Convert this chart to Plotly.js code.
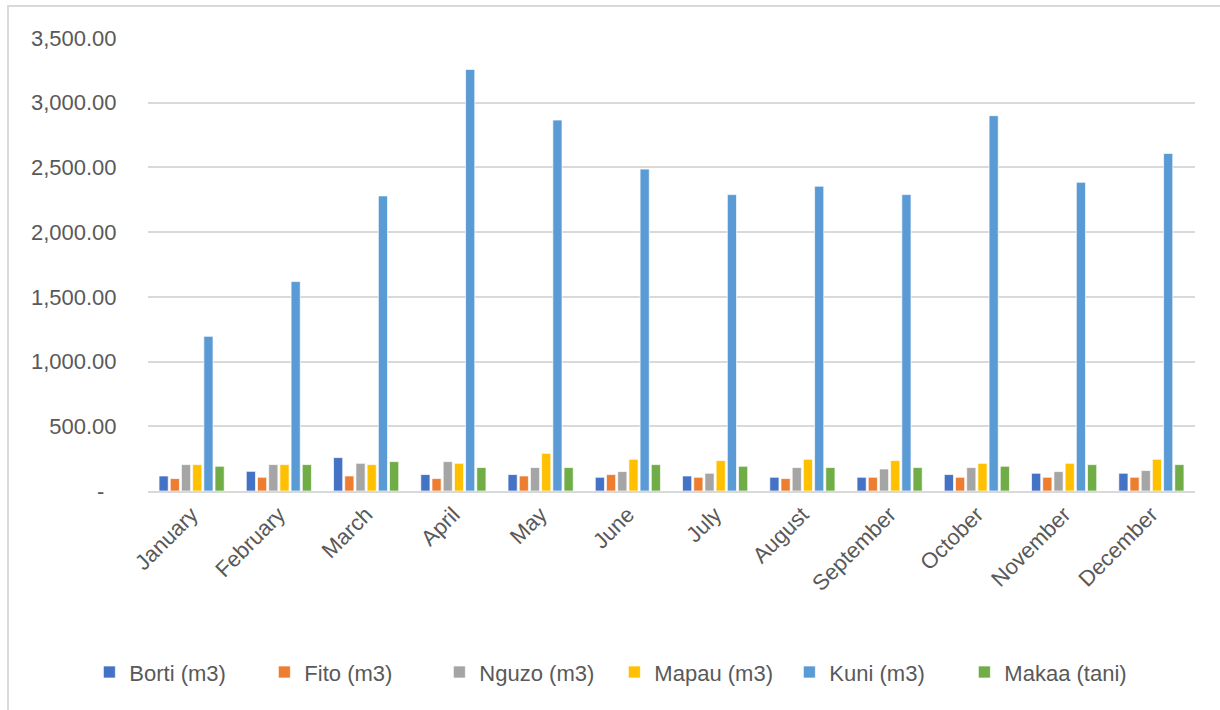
<!DOCTYPE html>
<html>
<head>
<meta charset="utf-8">
<script src="https://cdn.plot.ly/plotly-3.0.1.min.js"></script>
<style>
  html, body { margin: 0; padding: 0; background: #fff; }
  #wrap { position: relative; width: 1220px; height: 710px; overflow: hidden; }
  #chart { width: 1220px; height: 710px; }
  #frame { position: absolute; left: 7px; top: 5px; width: 1300px; height: 800px;
           border-top: 2px solid #d9d9d9; border-left: 2px solid #d9d9d9; pointer-events: none; }
</style>
</head>
<body>
<div id="wrap">
  <div id="chart"></div>
  <div id="frame"></div>
</div>
<script>
const months = ["January","February","March","April","May","June","July","August","September","October","November","December"];
const borti = [116,152,258,127,127,106,116,106,106,127,137,137];
const fito  = [96,106,116,96,116,127,106,96,106,106,106,106];
const nguzo = [204,204,214,227,181,150,137,181,170,181,150,158];
const mapau = [204,204,204,214,291,245,235,245,235,214,214,245];
const kuni  = [1195,1618,2280,3257,2866,2487,2290,2355,2290,2900,2385,2608];
const makaa = [191,204,227,181,181,204,191,181,181,191,204,204];
const seriesNames = ["Borti (m3)","Fito (m3)","Nguzo (m3)","Mapau (m3)","Kuni (m3)","Makaa (tani)"];
const yTickVals = [0,500,1000,1500,2000,2500,3000,3500];
const yTickText = ["-\u00a0\u00a0","500.00","1,000.00","1,500.00","2,000.00","2,500.00","3,000.00","3,500.00"];

const colors = ["#4472C4","#ED7D31","#A5A5A5","#FFC000","#5B9BD5","#70AD47"];
const data = [borti, fito, nguzo, mapau, kuni, makaa].map((vals, i) => ({
  type: "bar",
  name: seriesNames[i],
  x: months,
  y: vals,
  marker: { color: colors[i], line: { color: "rgba(255,255,255,0.85)", width: 0.8 } },
  hoverinfo: "x+y+name"
}));

const FONT = "'Liberation Sans Narrow', 'Arial Narrow', 'Liberation Sans', Arial, sans-serif";
const FS = 22;

const layout = {
  width: 1220, height: 710,
  margin: { l: 148, r: 25, t: 38, b: 219 },
  paper_bgcolor: "rgba(0,0,0,0)",
  plot_bgcolor: "#fff",
  barmode: "group",
  bargap: 0.23,
  bargroupgap: 0.18,
  font: { family: FONT, size: FS, color: "#595959" },
  xaxis: {
    type: "category",
    tickangle: -45,
    ticks: "",
    showgrid: false,
    showline: true,
    linecolor: "#d9d9d9",
    linewidth: 2,
    tickfont: { family: FONT, size: FS, color: "#595959" },
    automargin: false
  },
  yaxis: {
    range: [0, 3500],
    tickvals: yTickVals,
    ticktext: yTickText,
    showgrid: true,
    gridcolor: "#d9d9d9",
    gridwidth: 2,
    zeroline: false,
    showline: false,
    ticks: "outside",
    ticklen: 26,
    tickcolor: "rgba(0,0,0,0)",
    tickfont: { family: FONT, size: FS, color: "#595959" },
    automargin: false
  },
  showlegend: true,
  legend: {
    orientation: "h",
    x: -0.056, xanchor: "left",
    y: -0.40, yanchor: "middle",
    font: { family: FONT, size: FS, color: "#595959" },
    itemwidth: 30,
    entrywidth: 130,
    entrywidthmode: "pixels",
    bgcolor: "rgba(0,0,0,0)"
  }
};

Plotly.newPlot("chart", data, layout, { staticPlot: true, displayModeBar: false });
</script>
</body>
</html>
